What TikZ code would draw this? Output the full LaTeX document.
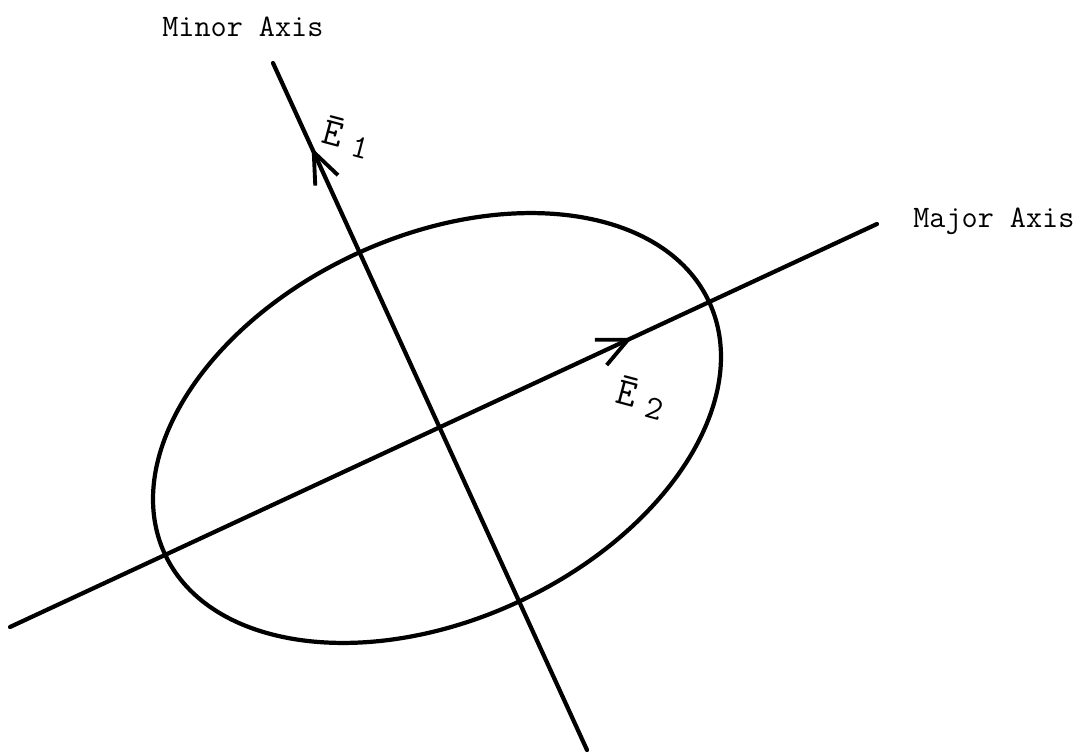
\documentclass[tikz,border=0pt]{standalone}
\usetikzlibrary{arrows.meta,decorations.markings}
\begin{document}
\begin{tikzpicture}[x=0.02cm,y=-0.02cm,
  axis/.style={line width=2.4pt, line cap=round},
  lbl/.style={font=\fontsize{17.8}{20}\selectfont\ttfamily, inner sep=0pt},
  elbl/.style={font=\fontsize{22}{24}\selectfont\ttfamily, inner sep=0pt},
  sub/.style={font=\fontsize{19}{20}\selectfont\ttfamily, inner sep=0pt}]
\useasboundingbox (0,0) rectangle (1080,754);
\coordinate (minA) at (273,63);
\coordinate (minB) at (587,750);
\coordinate (majA) at (10,627);
\coordinate (majB) at (877,224);
\coordinate (c) at (437,428);
\begin{scope}[shift={(c)}, rotate=24.8]
  \draw[axis] (0,0) ellipse [x radius=6cm, y radius=3.84cm];
\end{scope}
\draw[axis, postaction={decorate}, decoration={markings,
  mark=at position 0.123 with {\arrowreversed[line width=2.2pt]{Straight Barb[length=0.62cm, width=0.5cm]}}}]
  (minA) -- (minB);
\draw[axis, postaction={decorate}, decoration={markings,
  mark=at position 0.7176 with {\arrow[line width=2.2pt]{Straight Barb[length=0.6cm, width=0.56cm]}}}]
  (majA) -- (majB);
\node[lbl, anchor=base west] (minlbl) at (162,36) {Minor Axis};
\node[lbl, anchor=base west] (majlbl) at (913,227) {Major Axis};
\node[elbl, rotate=-15] (e1) at (334,131) {Ē};
\node[sub, rotate=-15] (e1s) at (360,148) {1};
\node[elbl, rotate=-15] (e2) at (628,391) {Ē};
\node[sub, rotate=-15] (e2s) at (654,409) {2};
\end{tikzpicture}
\end{document}
